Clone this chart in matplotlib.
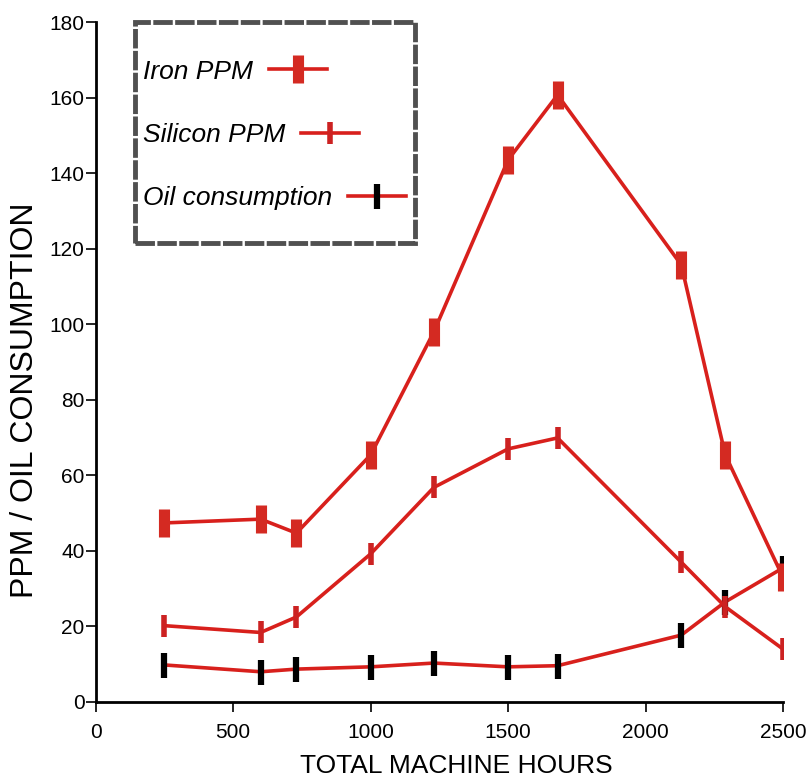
import numpy as np
import matplotlib.pyplot as plt
from matplotlib.patches import Rectangle

hours = [250, 600, 730, 1000, 1230, 1500, 1680, 2130, 2290, 2500]
iron_ppm = [47.4, 48.4, 44.7, 65.4, 98, 143.5, 160.7, 115.7, 65.4, 33]
silicon_ppm = [20.2, 18.4, 22.5, 39.2, 56.8, 67, 69.9, 37, 25.2, 14.0]
oil_consumption = [9.8, 8.0, 8.7, 9.3, 10.3, 9.3, 9.6, 17.7, 26.5, 35.5]

plt.rcParams['font.family'] = ['Liberation Sans', 'DejaVu Sans']

red = '#d8201c'
fig = plt.figure(figsize=(8.11, 7.76), dpi=100)
ax = fig.add_axes([0.118, 0.0954, 0.8475, 0.8762])

ax.plot(hours, oil_consumption, color=red, lw=2.6, marker='|', ms=18,
        mew=4.5, mec='black', label='Oil consumption', zorder=3)
ax.plot(hours, silicon_ppm, color=red, lw=2.6, marker='|', ms=16,
        mew=4, mec='#cc2222', label='Silicon PPM', zorder=3)
ax.plot(hours, iron_ppm, color=red, lw=2.6, marker='|', ms=20,
        mew=8, mec='#d42a22', label='Iron PPM', zorder=3)

ax.set_xlim(0, 2500)
ax.set_ylim(0, 180)
ax.set_xticks(np.arange(0, 2501, 500))
ax.set_yticks(np.arange(0, 181, 20))
ax.spines['top'].set_visible(False)
ax.spines['right'].set_visible(False)
ax.spines['left'].set_linewidth(2)
ax.spines['bottom'].set_linewidth(2)
ax.tick_params(direction='out', length=7, width=1.2, labelsize=15)
ax.tick_params(axis='x', pad=8)
ax.tick_params(axis='y', pad=1)
ax.set_xlabel('TOTAL MACHINE HOURS', fontsize=19)
ax.set_ylabel('PPM / OIL CONSUMPTION', fontsize=23)
ax.xaxis.set_label_coords(0.525, -0.076)
ax.yaxis.set_label_coords(-0.081, 0.444)

handles, labels = ax.get_legend_handles_labels()
leg = ax.legend(handles[::-1], labels[::-1], loc='center left',
                bbox_to_anchor=(0.069, 0.834), borderaxespad=0,
                markerfirst=False, frameon=False,
                prop={'style': 'italic', 'size': 19},
                handlelength=2.2, handletextpad=0.6, labelspacing=1.49,
                borderpad=0.0, numpoints=1)
# text left-aligned, handle right after it
for col in leg._legend_handle_box.get_children():
    col.align = 'left'

# legend box
ax.add_patch(Rectangle((0.057, 0.675), 0.407, 0.325, transform=ax.transAxes,
                       fill=False, edgecolor='#505050', lw=3.5,
                       linestyle=(0, (4, 0.5)), clip_on=False, zorder=4))

fig.savefig('out.png', dpi=100)
